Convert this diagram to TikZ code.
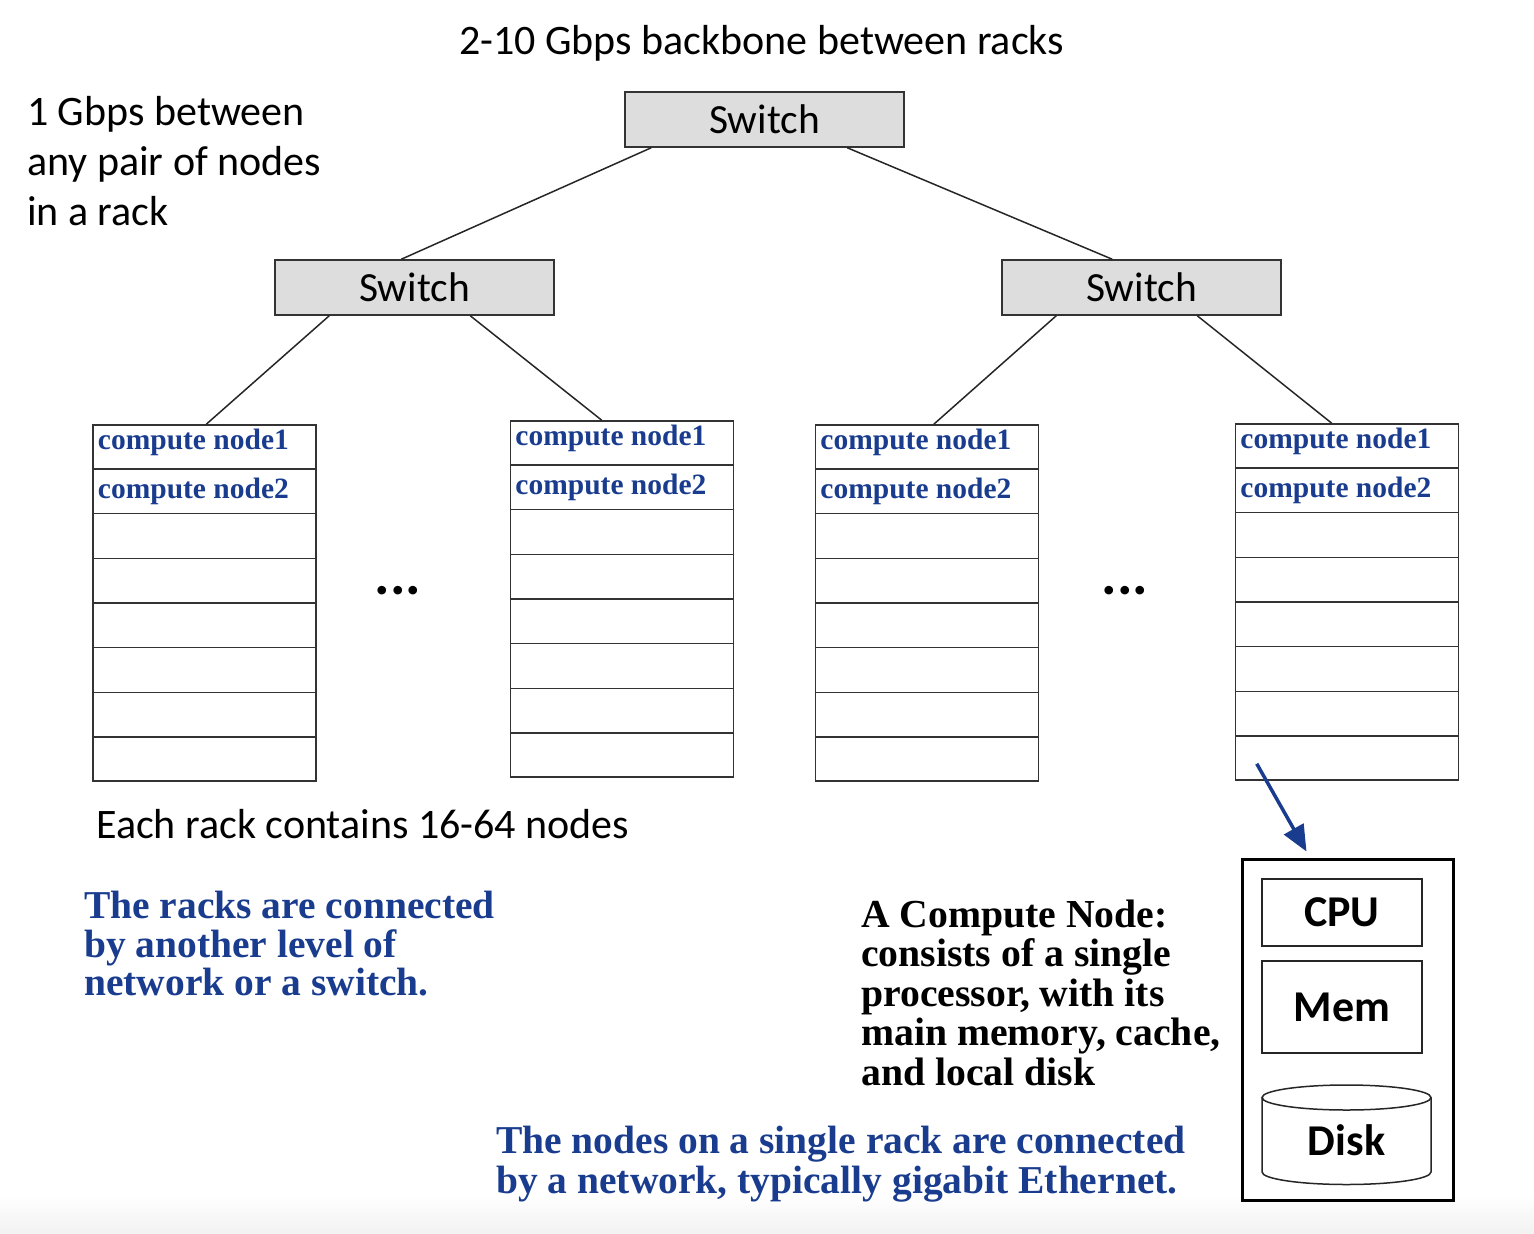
\documentclass[tikz,border=0pt]{standalone}
\usepackage{fontspec}
\setmainfont{Liberation Serif}
\newfontfamily\calfont{Carlito}
\usetikzlibrary{calc,arrows.meta}
\definecolor{nblue}{HTML}{1A3C8E}
\definecolor{swgray}{HTML}{DDDDDD}
\tikzset{
 sw/.style={draw=black!80, fill=swgray, line width=1.5pt, minimum width=279pt, minimum height=55pt, inner sep=0pt, font=\calfont\fontsize{41.5}{41.5}\selectfont},
 rack/.style={draw=black!80, line width=1.5pt, minimum width=223pt, minimum height=356pt, inner sep=0pt},
 link/.style={draw=black!85, line width=1.5pt},
 rowline/.style={draw=black!80, line width=1.5pt},
 cnode/.style={font=\bfseries\fontsize{29.5}{29.5}\selectfont, text=nblue, anchor=base west, inner sep=0pt},
 sanst/.style={font=\calfont\fontsize{42}{42}\selectfont, anchor=base west, inner sep=0pt},
 bluet/.style={font=\bfseries\fontsize{39.5}{39.5}\selectfont, text=nblue, anchor=base west, inner sep=0pt},
 blackt/.style={font=\bfseries\fontsize{39.7}{39.7}\selectfont, anchor=base west, inner sep=0pt},
 dotst/.style={font=\calfont\bfseries\fontsize{58}{58}\selectfont, anchor=base, inner sep=0pt},
 part/.style={draw=black!85, line width=1.5pt, minimum width=160pt, inner sep=0pt, font=\calfont\bfseries\fontsize{44}{44}\selectfont},
}
\begin{document}
\begin{tikzpicture}[x=1pt,y=-1pt]
\useasboundingbox (0,0) rectangle (1534,1234);
\shade[top color=white, bottom color=black!5] (0,1195) rectangle (1534,1234);

% titles
\node[sanst, anchor=base] (title) at (761.5,54) {2-10 Gbps backbone between racks};
\node[sanst] (l1) at (27,125) {1 Gbps between};
\node[sanst] (l2) at (27,175) {any pair of nodes};
\node[sanst] (l3) at (27,225) {in a rack};

% switches
\node[sw] (swT) at (764.5,119.5) {Switch};
\node[sw] (swL) at (414.5,287.5) {Switch};
\node[sw] (swR) at (1141.5,287.5) {Switch};

% racks
\node[rack] (r1) at (204.5,603) {};
\node[rack] (r2) at (622,599) {};
\node[rack] (r3) at (927,603) {};
\node[rack] (r4) at (1347,602) {};
\foreach \r in {r1,r2,r3,r4}{
  \foreach \i in {1,...,7}{
    \draw[rowline] ($(\r.north west)!\i/8!(\r.south west)$) -- ($(\r.north east)!\i/8!(\r.south east)$);
  }
  \node[cnode] (\r n1) at ([shift={(5.5,25.5)}]\r.north west) {compute node1};
  \node[cnode] (\r n2) at ([shift={(5.5,74.5)}]\r.north west) {compute node2};
}

% connectors
\draw[link] ([xshift=27pt]swT.south west) -- ([xshift=127pt]swL.north west);
\draw[link] ([xshift=223pt]swT.south west) -- ([xshift=111pt]swR.north west);
\draw[link] ([xshift=55pt]swL.south west) -- ([xshift=114pt]r1.north west);
\draw[link] ([xshift=196pt]swL.south west) -- ([xshift=92pt]r2.north west);
\draw[link] ([xshift=55pt]swR.south west) -- ([xshift=119pt]r3.north west);
\draw[link] ([xshift=196pt]swR.south west) -- ([xshift=97pt]r4.north west);

% dots
\node[dotst] (d1) at (398,594) {...};
\node[dotst] (d2) at (1125,594) {...};

\node[sanst] (each) at (96,838) {Each rack contains 16-64 nodes};

\node[bluet] (b1) at (84,918) {The racks are connected};
\node[bluet] (b2) at (84,957) {by another level of};
\node[bluet] (b3) at (84,995) {network or a switch.};

\node[blackt] (k1) at (861,927) {A Compute Node:};
\node[blackt] (k2) at (861,966.5) {consists of a single};
\node[blackt] (k3) at (861,1006) {processor, with its};
\node[blackt] (k4) at (861,1045.5) {main memory, cache,};
\node[blackt] (k5) at (861,1085) {and local disk};

\node[bluet] (n1) at (496,1153) {The nodes on a single rack are connected};
\node[bluet] (n2) at (496,1193) {by a network, typically gigabit Ethernet.};

% compute node detail
\node[draw=black, line width=3pt, minimum width=211pt, minimum height=341pt, inner sep=0pt] (cn) at (1347.5,1029.5) {};
\node[part, minimum height=67pt] (cpu) at (1342,912.5) {CPU};
\node[part, minimum height=92pt] (mem) at (1342,1007) {Mem};
\draw[draw=black!85, line width=1.5pt, fill=white] (1262,1097.5) -- (1262,1172) arc[start angle=180, end angle=0, x radius=84.5, y radius=12.5] -- (1431,1097.5);
\draw[draw=black!85, line width=1.5pt] (1346.5,1097.5) ellipse[x radius=84.5, y radius=12.5];
\node[font=\calfont\bfseries\fontsize{44}{44}\selectfont, anchor=base, inner sep=0pt] (disk) at (1346.5,1155) {Disk};

\draw[draw=nblue, line width=3.5pt, -{Triangle[length=26pt,width=22pt]}] ([shift={(22,-17)}]r4.south west) -- ([shift={(66,-6)}]cn.north west);
\end{tikzpicture}
\end{document}
